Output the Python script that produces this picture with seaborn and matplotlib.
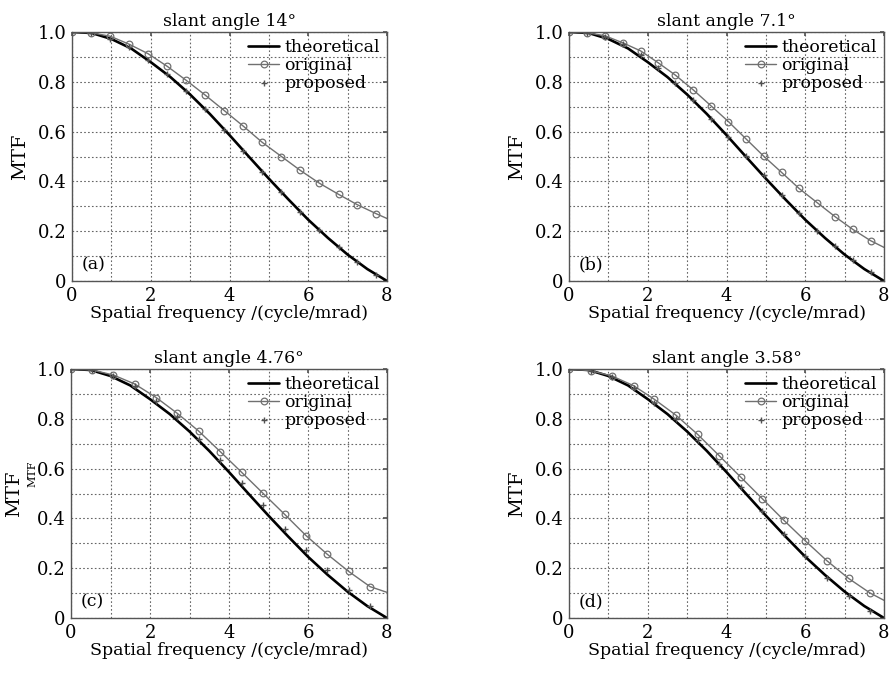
import matplotlib
matplotlib.use("Agg")
import matplotlib.pyplot as plt
import seaborn as sns
import numpy as np

sns.set_theme(style="white")
plt.rcParams['font.family'] = ['DejaVu Serif']
plt.rcParams['text.color'] = 'black'
plt.rcParams['axes.labelcolor'] = 'black'
plt.rcParams['xtick.color'] = 'black'
plt.rcParams['ytick.color'] = 'black'

# theoretical MTF (shared by all panels)
theo_x = [0, 0.5, 1.0, 1.5, 2.0, 2.5, 3.0, 3.5, 4.0, 4.5, 5.0, 5.5, 6.0, 6.5, 7.0, 7.5, 8.0]
theo_y = [1.0, 0.996, 0.972, 0.934, 0.879, 0.819, 0.749, 0.671, 0.586, 0.498, 0.411, 0.327, 0.246, 0.173, 0.106, 0.048, 0.0]

titles = ["slant angle 14°", "slant angle 7.1°", "slant angle 4.76°", "slant angle 3.58°"]
tags = ["(a)", "(b)", "(c)", "(d)"]

# sample positions for each panel
x_a = [0, 0.48, 0.97, 1.45, 1.93, 2.42, 2.90, 3.38, 3.87, 4.35, 4.83, 5.32, 5.80, 6.28, 6.77, 7.25, 7.73]
x_b = [0, 0.45, 0.91, 1.36, 1.82, 2.26, 2.70, 3.16, 3.61, 4.05, 4.50, 4.94, 5.40, 5.84, 6.30, 6.76, 7.21, 7.66]
x_c = [0, 0.53, 1.07, 1.61, 2.16, 2.69, 3.23, 3.78, 4.32, 4.86, 5.41, 5.95, 6.48, 7.03, 7.57]
x_d = [0, 0.55, 1.09, 1.64, 2.17, 2.72, 3.27, 3.82, 4.36, 4.91, 5.46, 6.00, 6.55, 7.10, 7.65]

# original method
orig_a = [1.0, 0.997, 0.983, 0.951, 0.913, 0.862, 0.806, 0.747, 0.684, 0.622, 0.557, 0.500, 0.444, 0.393, 0.348, 0.306, 0.270]
orig_b = [1.0, 0.997, 0.985, 0.957, 0.924, 0.877, 0.827, 0.767, 0.703, 0.640, 0.570, 0.502, 0.436, 0.372, 0.315, 0.258, 0.207, 0.162]
orig_c = [1.0, 0.996, 0.976, 0.940, 0.885, 0.822, 0.751, 0.668, 0.585, 0.501, 0.416, 0.331, 0.257, 0.187, 0.126]
orig_d = [1.0, 0.993, 0.972, 0.933, 0.878, 0.814, 0.737, 0.651, 0.566, 0.479, 0.392, 0.310, 0.230, 0.159, 0.100]
orig_end = [0.251, 0.135, 0.103, 0.071]  # original curve value at x = 8

# proposed method
prop_a = [1.0, 0.997, 0.973, 0.940, 0.886, 0.830, 0.763, 0.690, 0.608, 0.523, 0.438, 0.357, 0.277, 0.205, 0.135, 0.075, 0.023]
prop_b = [1.0, 0.997, 0.979, 0.952, 0.908, 0.855, 0.797, 0.727, 0.651, 0.577, 0.502, 0.424, 0.347, 0.274, 0.202, 0.141, 0.084, 0.035]
prop_c = [1.0, 0.996, 0.971, 0.931, 0.873, 0.806, 0.719, 0.635, 0.543, 0.452, 0.358, 0.272, 0.194, 0.114, 0.050]
prop_d = [1.0, 0.991, 0.967, 0.922, 0.865, 0.798, 0.713, 0.619, 0.528, 0.428, 0.337, 0.247, 0.160, 0.087, 0.027]

xs = [x_a, x_b, x_c, x_d]
origs = [orig_a, orig_b, orig_c, orig_d]
props = [prop_a, prop_b, prop_c, prop_d]

fig = plt.figure(figsize=(8.91, 6.73), dpi=100)
W, H = 891, 673
boxes = [(72, 32, 315, 249), (569, 32, 315, 249), (71, 369, 316, 249), (569, 369, 315, 249)]
ylabel_pads = [6, 6, 10, 6]

gray = '#707070'
for i, (l, t, w, h) in enumerate(boxes):
    ax = fig.add_axes([l / W, 1 - (t + h) / H, w / W, h / H])
    sns.lineplot(x=theo_x, y=theo_y, ax=ax, color='black', lw=1.9, label='theoretical')
    ox = xs[i] + [8.0]
    oy = origs[i] + [orig_end[i]]
    sns.lineplot(x=ox, y=oy, ax=ax, color=gray, lw=1.0, marker='o', ms=4.8, mfc='none',
                 mec=gray, mew=0.9, markevery=list(range(len(xs[i]))), label='original')
    sns.scatterplot(x=xs[i], y=props[i], ax=ax, marker='+', color='#505050', s=18,
                    linewidth=1.0, label='proposed', zorder=5)

    ax.set_xlim(0, 8)
    ax.set_ylim(0, 1)
    ax.set_xticks([0, 2, 4, 6, 8])
    ax.set_xticklabels(['0', '2', '4', '6', '8'])
    ax.set_xticks([1, 3, 5, 7], minor=True)
    ax.set_yticks([0, 0.2, 0.4, 0.6, 0.8, 1.0])
    ax.set_yticklabels(['0', '0.2', '0.4', '0.6', '0.8', '1.0'])
    ax.set_yticks([0.1, 0.3, 0.5, 0.7, 0.9], minor=True)
    ax.grid(True, which='both', ls=(0, (1.5, 2)), color='#666666', lw=0.8)
    ax.tick_params(which='major', direction='in', length=3, top=True, right=True,
                   labelsize=13, pad=4, color='#555555', labelcolor='black')
    ax.tick_params(which='minor', length=0)
    for s in ax.spines.values():
        s.set_color('#555555')
        s.set_linewidth(1.0)

    ax.set_title(titles[i], fontsize=12.5, pad=4)
    ax.set_xlabel('Spatial frequency /(cycle/mrad)', fontsize=12.5, labelpad=0)
    ax.set_ylabel('MTF', fontsize=14, labelpad=ylabel_pads[i])
    ax.text(0.03, 0.03, tags[i], transform=ax.transAxes, fontsize=12.5, ha='left', va='bottom')
    ax.legend(loc='upper right', frameon=False, fontsize=12.5, handlelength=1.8,
              handletextpad=0.3, labelspacing=0.05, borderaxespad=0.2, borderpad=0.2)

# stray duplicate label in panel (c), next to the 0.6 tick label as in the source
fig.text(32 / W, 1 - 474 / H, 'MTF', rotation=90, fontsize=8, ha='center', va='center')

fig.savefig('out.png', dpi=100)
